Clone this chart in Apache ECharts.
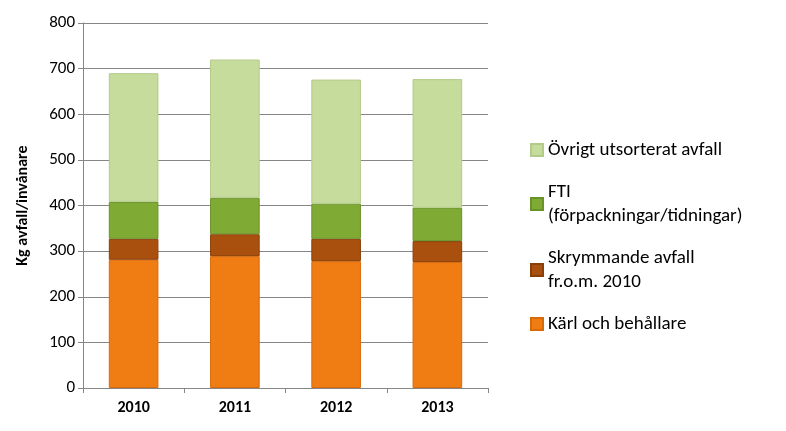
<!DOCTYPE html>
<html><head><meta charset="utf-8">
<script src="https://cdn.jsdelivr.net/npm/echarts@6/dist/echarts.min.js"></script>
<style>html,body{margin:0;background:#fff}#c{width:786px;height:431px}</style>
</head><body><div id="c"></div>
<script>
const years = ['2010', '2011', '2012', '2013'];
const karl = [281, 289, 278, 276];
const skrym = [46, 48, 49, 46];
const fti = [81, 80, 77, 73];
const ovrigt = [282, 303, 272, 282];
const names = ['Kärl och behållare', 'Skrymmande avfall fr.o.m. 2010', 'FTI (förpackningar/tidningar)', 'Övrigt utsorterat avfall'];
const labels = {
  'Kärl och behållare': 'Kärl och behållare',
  'Skrymmande avfall fr.o.m. 2010': 'Skrymmande avfall\nfr.o.m. 2010',
  'FTI (förpackningar/tidningar)': 'FTI\n(förpackningar/tidningar)',
  'Övrigt utsorterat avfall': 'Övrigt utsorterat avfall'
};
const colors = ['#f07c14', '#a9500f', '#7fab34', '#c6dc9c'];
const borders = ['#d96a0a', '#8a3f08', '#6a922a', '#b3ca89'];

const chart = echarts.init(document.getElementById('c'));
const vals = [karl, skrym, fti, ovrigt];
chart.setOption({
  animation: false,
  textStyle: { fontFamily: 'Carlito, "Liberation Sans", sans-serif' },
  grid: { left: 83, right: 298, top: 23, bottom: 43 },
  legend: {
    orient: 'vertical', left: 525, top: 133, itemGap: 18,
    itemWidth: 12, itemHeight: 12, icon: 'rect',
    data: names.slice().reverse(),
    formatter: n => labels[n],
    textStyle: { fontSize: 19, color: '#000', lineHeight: 24 }
  },
  xAxis: {
    type: 'category', data: years,
    axisLine: { lineStyle: { color: '#868686' } },
    axisTick: { show: true, lineStyle: { color: '#868686' } },
    axisLabel: { fontSize: 16, fontWeight: 'bold', color: '#000', margin: 12 }
  },
  yAxis: {
    type: 'value', min: 0, max: 800, interval: 100,
    name: 'Kg avfall/invånare', nameLocation: 'middle', nameGap: 52, nameRotate: 90,
    nameTextStyle: { fontSize: 16, fontWeight: 'bold', color: '#000' },
    axisLine: { show: true, lineStyle: { color: '#868686' } },
    axisTick: { show: true, lineStyle: { color: '#868686' } },
    axisLabel: { fontSize: 17, color: '#000' },
    splitLine: { lineStyle: { color: '#868686' } }
  },
  series: names.map((n, i) => ({
    name: n, type: 'bar', stack: 'a', barWidth: '49%',
    data: vals[i],
    itemStyle: { color: colors[i], borderColor: borders[i], borderWidth: 1 }
  }))
});
</script></body></html>
